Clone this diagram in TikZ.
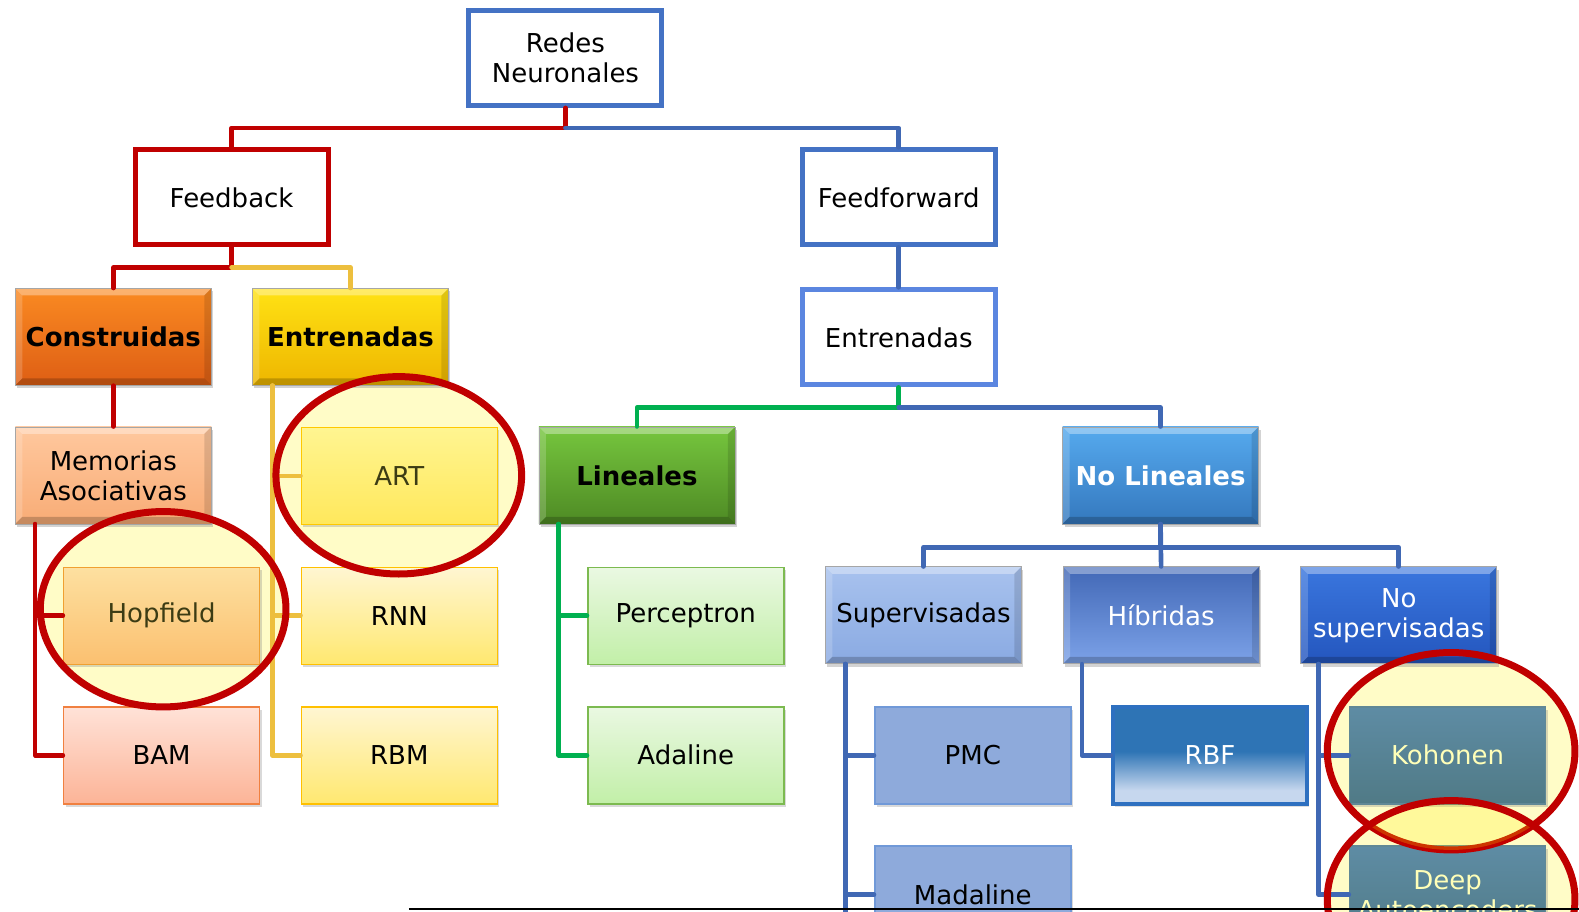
\documentclass[tikz,border=0pt]{standalone}
\usepackage{fontspec}
\setmainfont{DejaVu Sans}
\usetikzlibrary{calc,shadows}

% connector colours
\definecolor{lnRed}{HTML}{C00000}
\definecolor{lnBlue}{HTML}{4068B4}
\definecolor{lnYellow}{HTML}{EDBF3E}
\definecolor{lnGreen}{HTML}{00B050}
% outline box borders
\definecolor{bdBlue}{HTML}{4472C4}
\definecolor{bdLight}{HTML}{5B86E0}
% RBF shading colours
\definecolor{rbfDark}{HTML}{2E74B5}
\definecolor{rbfLight}{HTML}{C6D7EE}
\pgfdeclareverticalshading{rbfshade}{100bp}{color(0bp)=(rbfLight); color(32bp)=(rbfLight); color(52bp)=(rbfDark); color(100bp)=(rbfDark)}

\newcommand\boxfont{\fontsize{26}{30}\selectfont}

\tikzset{
  outbox/.style={draw, line width=5pt, fill=white, minimum width=193pt, minimum height=95pt,
    align=center, font=\boxfont, inner sep=2pt},
  flatbox/.style={draw, line width=1.5pt, minimum width=196pt, minimum height=97pt,
    align=center, font=\boxfont, inner sep=2pt,
    drop shadow={shadow xshift=2pt, shadow yshift=-3pt, opacity=.3}},
  bevelbox/.style={draw=black!35, line width=.6pt, minimum width=196pt, minimum height=97pt,
    align=center, font=\boxfont, inner sep=2pt,
    drop shadow={shadow xshift=2pt, shadow yshift=-3pt, opacity=.35},
    path picture={
      \fill[white,opacity=.35] (path picture bounding box.north west) -- (path picture bounding box.north east)
        -- ([shift={(-7pt,-7pt)}]path picture bounding box.north east) -- ([shift={(7pt,-7pt)}]path picture bounding box.north west) -- cycle;
      \fill[white,opacity=.18] (path picture bounding box.north west) -- ([shift={(7pt,-7pt)}]path picture bounding box.north west)
        -- ([shift={(7pt,7pt)}]path picture bounding box.south west) -- (path picture bounding box.south west) -- cycle;
      \fill[black,opacity=.12] (path picture bounding box.north east) -- ([shift={(-7pt,-7pt)}]path picture bounding box.north east)
        -- ([shift={(-7pt,7pt)}]path picture bounding box.south east) -- (path picture bounding box.south east) -- cycle;
      \fill[black,opacity=.2] (path picture bounding box.south west) -- (path picture bounding box.south east)
        -- ([shift={(-7pt,7pt)}]path picture bounding box.south east) -- ([shift={(7pt,7pt)}]path picture bounding box.south west) -- cycle;
    }},
  link/.style={line width=4.6pt, line join=round, line cap=round},
  ringline/.style={draw=lnRed, line width=7pt}
}

\begin{document}
\begin{tikzpicture}[x=1.007pt, y=-1.007pt]
\useasboundingbox (0,0) rectangle (1568,905);

% pale highlight under the marked boxes
\fill[yellow!22] (396,472) ellipse [x radius=122, y radius=98];
\fill[yellow!22] (162,605) ellipse [x radius=122, y radius=97];
\fill[yellow!22] (1441,746) ellipse [x radius=123, y radius=98];
\fill[yellow!22] (1441,893) ellipse [x radius=123, y radius=98];

% ---- boxes ----
\node[outbox, draw=bdBlue] (redes) at (561.5,57.5) {Redes\\Neuronales};
\node[outbox, draw=lnRed] (feedback) at (230,196) {Feedback};
\node[outbox, draw=bdBlue] (feedfwd) at (892.5,196) {Feedforward};
\node[outbox, draw=bdLight] (entW) at (892.5,335) {Entrenadas};

\node[bevelbox, top color={rgb,255:red,250;green,138;blue,34}, bottom color={rgb,255:red,222;green,94;blue,20},
      font=\boxfont\bfseries] (constr) at (112.5,334.5) {Construidas};
\node[bevelbox, top color={rgb,255:red,255;green,226;blue,20}, bottom color={rgb,255:red,238;green,182;blue,0},
      font=\boxfont\bfseries] (entY) at (348,334.5) {Entrenadas};
\node[bevelbox, top color={rgb,255:red,255;green,200;blue,158}, bottom color={rgb,255:red,248;green,172;blue,118}]
      (memo) at (112.5,472) {Memorias\\Asociativas};

\node[bevelbox, top color={rgb,255:red,118;green,198;blue,62}, bottom color={rgb,255:red,78;green,138;blue,36},
      font=\boxfont\bfseries] (lin) at (632.5,472) {Lineales};
\node[bevelbox, top color={rgb,255:red,86;green,170;blue,238}, bottom color={rgb,255:red,52;green,120;blue,190},
      text=white, font=\boxfont\bfseries] (nolin) at (1152.5,472) {No Lineales};

\node[bevelbox, top color={rgb,255:red,168;green,194;blue,238}, bottom color={rgb,255:red,138;green,170;blue,226}]
      (sup) at (917,611) {Supervisadas};
\node[bevelbox, shading angle=-45, top color={rgb,255:red,66;green,104;blue,182}, bottom color={rgb,255:red,124;green,162;blue,232},
      text=white] (hib) at (1153,611) {Híbridas};
\node[bevelbox, top color={rgb,255:red,58;green,118;blue,222}, bottom color={rgb,255:red,36;green,86;blue,190},
      text=white] (nosup) at (1389,611) {No\\supervisadas};

% lower level, left
\node[flatbox, draw={rgb,255:red,255;green,200;blue,0}, top color={rgb,255:red,255;green,245;blue,145},
      bottom color={rgb,255:red,255;green,232;blue,92}, text={rgb,255:red,60;green,60;blue,20}] (art) at (396.5,472.5) {ART};
\node[flatbox, draw={rgb,255:red,240;green,160;blue,48}, top color={rgb,255:red,253;green,224;blue,160},
      bottom color={rgb,255:red,251;green,192;blue,112}, text={rgb,255:red,60;green,60;blue,20}] (hop) at (160.5,611.5) {Hopfield};
\node[flatbox, draw={rgb,255:red,255;green,192;blue,0}, top color={rgb,255:red,255;green,246;blue,210},
      bottom color={rgb,255:red,255;green,232;blue,112}] (rnn) at (396.5,611.5) {RNN};
\node[flatbox, draw={rgb,255:red,240;green,128;blue,64}, top color={rgb,255:red,255;green,226;blue,216},
      bottom color={rgb,255:red,252;green,180;blue,151}] (bam) at (160.5,750) {BAM};
\node[flatbox, draw={rgb,255:red,255;green,192;blue,0}, top color={rgb,255:red,255;green,246;blue,210},
      bottom color={rgb,255:red,255;green,232;blue,112}] (rbm) at (396.5,750) {RBM};

% lower level, middle
\node[flatbox, draw={rgb,255:red,124;green,186;blue,80}, top color={rgb,255:red,234;green,248;blue,226},
      bottom color={rgb,255:red,194;green,239;blue,168}] (perc) at (681,611.5) {Perceptron};
\node[flatbox, draw={rgb,255:red,124;green,186;blue,80}, top color={rgb,255:red,234;green,248;blue,226},
      bottom color={rgb,255:red,194;green,239;blue,168}] (ada) at (681,750) {Adaline};

% lower level, right
\node[flatbox, draw={rgb,255:red,112;green,153;blue,216}, fill={rgb,255:red,142;green,170;blue,219}] (pmc) at (966,750) {PMC};
\node[flatbox, draw={rgb,255:red,112;green,153;blue,216}, fill={rgb,255:red,142;green,170;blue,219}] (mada) at (966,888.5) {Madaline};
\node[draw={rgb,255:red,46;green,112;blue,192}, line width=4.5pt, shade, shading=rbfshade, text=white,
      minimum width=194pt, minimum height=97pt, font=\boxfont,
      drop shadow={shadow xshift=2pt, shadow yshift=-3pt, opacity=.25}] (rbf) at (1201.5,750) {RBF};
\node[flatbox, draw={rgb,255:red,96;green,136;blue,150}, top color={rgb,255:red,94;green,140;blue,164},
      bottom color={rgb,255:red,80;green,122;blue,134}, text={rgb,255:red,255;green,255;blue,184}] (koh) at (1437.5,750) {Kohonen};
\node[flatbox, draw={rgb,255:red,96;green,136;blue,150}, top color={rgb,255:red,94;green,140;blue,164},
      bottom color={rgb,255:red,80;green,122;blue,134}, text={rgb,255:red,255;green,255;blue,184}] (deep) at (1437.5,888.5) {Deep\\Autoencoders};

% ---- connectors ----
\draw[link, lnRed] (redes.south) -- ++(0,20) -| (feedback.north);
\draw[link, lnBlue] (redes.south) ++(0,20) -| (feedfwd.north);

\draw[link, lnRed] (feedback.south) -- ++(0,20) -| (constr.north);
\draw[link, lnYellow] (feedback.south) ++(0,20) -| (entY.north);

\draw[link, lnBlue] (feedfwd.south) -- (entW.north);
\draw[link, lnGreen] (entW.south) -- ++(0,20) -| (lin.north);
\draw[link, lnBlue] (entW.south) ++(0,20) -| (nolin.north);

\draw[link, lnRed] (constr.south) -- (memo.north);
\draw[link, lnRed] ($(memo.south west)+(20,0)$) |- (bam.west);
\draw[link, lnRed] ($(memo.south west)+(20,0)$) |- (hop.west);

\draw[link, lnYellow] ($(entY.south west)+(20,0)$) |- (rbm.west);
\draw[link, lnYellow] ($(entY.south west)+(20,0)$) |- (rnn.west);
\draw[link, lnYellow] ($(entY.south west)+(20,0)$) |- (art.west);

\draw[link, lnGreen] ($(lin.south west)+(20,0)$) |- (ada.west);
\draw[link, lnGreen] ($(lin.south west)+(20,0)$) |- (perc.west);

\draw[link, lnBlue] (nolin.south) -- ++(0,23) -| (sup.north);
\draw[link, lnBlue] (nolin.south) ++(0,23) -| (nosup.north);
\draw[link, lnBlue] (nolin.south) -- (hib.north);

\coordinate (suprail) at ($(sup.south west)+(20,320)$);
\draw[link, lnBlue] ($(sup.south west)+(20,0)$) -- (suprail);
\draw[link, lnBlue] ($(sup.south west)+(20,0)$) |- (pmc.west);
\draw[link, lnBlue] ($(sup.south west)+(20,0)$) |- (mada.west);
\draw[link, lnBlue] ($(hib.south west)+(19,0)$) |- (rbf.west);
\draw[link, lnBlue] ($(nosup.south west)+(18,0)$) |- (deep.west);
\draw[link, lnBlue] ($(nosup.south west)+(18,0)$) |- (koh.west);

% ---- highlight rings ----
\draw[ringline] (396,472) ellipse [x radius=122, y radius=98];
\draw[ringline] (162,605) ellipse [x radius=122, y radius=97];
\draw[ringline] (1441,746) ellipse [x radius=123, y radius=98];
\begin{scope}
  \clip (1441,746) ellipse [x radius=123, y radius=98];
  \fill[yellow, opacity=.22] (1441,893) ellipse [x radius=123, y radius=98];
\end{scope}
\draw[ringline] (1441,893) ellipse [x radius=123, y radius=98];

% rule along the lower edge
\draw[line width=2pt] (406,903) -- (1568,903);
\end{tikzpicture}
\end{document}
